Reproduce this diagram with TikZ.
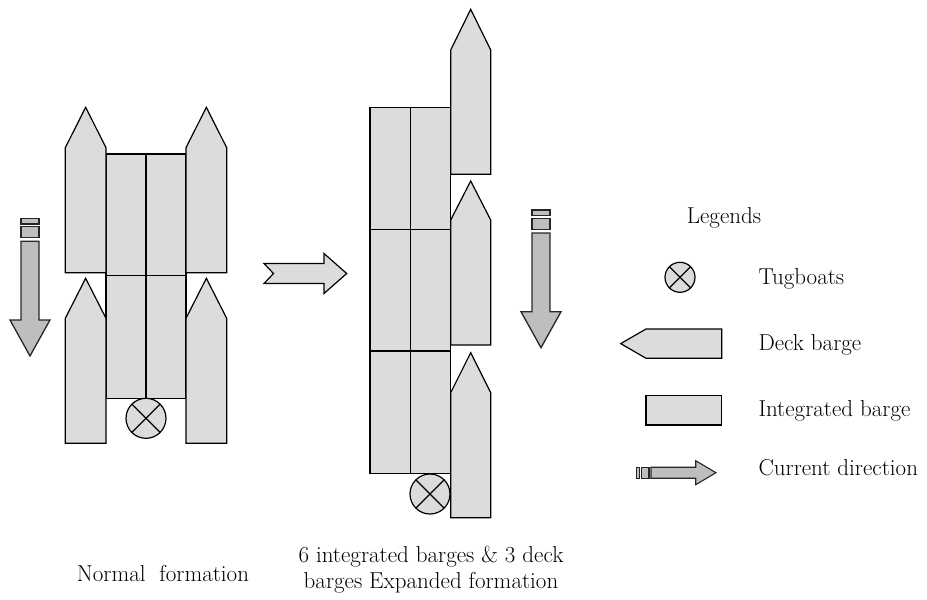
\documentclass[tikz,border=0pt]{standalone}
\usepackage{fontspec}
\setmainfont{Latin Modern Roman}
\definecolor{bargefill}{gray}{0.863}
\definecolor{arrowfill}{gray}{0.745}
\tikzset{
  hull/.style={draw=black, fill=bargefill, line width=1.2pt, line join=miter},
  cur/.style={draw=black!85, fill=arrowfill, line width=1.3pt, line join=miter},
  tug/.style={circle, draw=black, fill=bargefill, line width=1.2pt, inner sep=0pt, outer sep=0pt},
  lbl/.style={font=\fontsize{23}{25}\selectfont, inner sep=0pt, anchor=base west}
}
% deck barge pointing up: x1, x2, apex y, shoulder y, bottom y
\newcommand{\dbarge}[5]{%
  \draw[hull] (#1,#5) -- (#1,#4) -- ({(#1+#2)/2},#3) -- (#2,#4) -- (#2,#5) -- cycle;}
% current arrow pointing down: centre x, top y
\newcommand{\curdown}[2]{%
  \draw[cur] ({#1-9},#2) rectangle ({#1+9},{#2+5.7});
  \draw[cur] ({#1-9},{#2+8.4}) rectangle ({#1+9},{#2+19.4});
  \draw[cur] ({#1-9},{#2+23}) -- ({#1-9},{#2+101.7}) -- ({#1-20},{#2+101.7}) -- (#1,{#2+137.7})
     -- ({#1+20},{#2+101.7}) -- ({#1+9},{#2+101.7}) -- ({#1+9},{#2+23}) -- cycle;}
% tug cross
\newcommand{\tugx}[1]{%
  \draw[line width=1.2pt] (#1.north west) -- (#1.south east) (#1.north east) -- (#1.south west);}
\begin{document}
\begin{tikzpicture}[x=1pt,y=-1pt]
\useasboundingbox (0,0) rectangle (927,600);

% ---------- Normal formation ----------
\curdown{30}{218.3}
\draw[hull] (106,154) rectangle (146,275.7);
\draw[hull] (146,154) rectangle (186,275.7);
\draw[hull] (106,275.7) rectangle (146,398.3);
\draw[hull] (146,275.7) rectangle (186,398.3);
\dbarge{65.3}{106}{107.3}{147.7}{272.7}
\dbarge{186}{226.7}{107.3}{147.7}{272.7}
\dbarge{65.3}{106}{278.3}{318.3}{443.3}
\dbarge{186}{226.7}{278.3}{318.3}{443.3}
\node[tug, minimum size=40pt] (tugA) at (146,418.3) {};
\tugx{tugA}

% ---------- transition arrow ----------
\draw[hull] (264,263.5) -- (324,263.5) -- (324,253.5) -- (346.7,273.5) -- (324,293.5)
  -- (324,283.5) -- (264,283.5) -- (273.5,273.5) -- cycle;

% ---------- Expanded formation ----------
\foreach \ya/\yb in {107.3/229.3, 229.3/351, 351/473.3}{
  \draw[hull] (370,\ya) rectangle (410.7,\yb);
  \draw[hull] (410.7,\ya) rectangle (450.7,\yb);
}
\dbarge{450.7}{490.7}{9.3}{50}{174.3}
\dbarge{450.7}{490.7}{181}{220}{345}
\dbarge{450.7}{490.7}{352.7}{392.7}{517.7}
\node[tug, minimum size=40pt] (tugB) at (430,494) {};
\tugx{tugB}
\curdown{541}{210}

% ---------- Legend ----------
\node[lbl] (legt) at (686.7,223) {Legends};
\node[tug, minimum size=30pt] (tugL) at (680,277.3) {};
\tugx{tugL}
\node[lbl] (ltug) at (758.3,284) {Tugboats};
\draw[hull] (620.7,343.6) -- (646,329) -- (721.7,329) -- (721.7,358.3) -- (646,358.3) -- cycle;
\node[lbl] (ldeck) at (758.3,350.5) {Deck barge};
\draw[hull] (646,395.7) rectangle (721.7,425);
\node[lbl] (lint) at (758.3,416.5) {Integrated barge};
\draw[cur, line width=1.1pt] (636.7,467.2) rectangle (639.7,478.2);
\draw[cur, line width=1.1pt] (641.7,467.2) rectangle (649,478.2);
\draw[cur, line width=1.1pt] (651,467.2) -- (695.7,467.2) -- (695.7,460.7) -- (716,472.7)
  -- (695.7,484.7) -- (695.7,478.2) -- (651,478.2) -- cycle;
\node[lbl] (lcur) at (758.3,475) {Current direction};

% ---------- captions ----------
\node[lbl] (capA) at (76.7,581.5) {Normal\ \ formation};
\node[font=\fontsize{23}{25.5}\selectfont, inner sep=0pt, align=center, anchor=base] (capB)
  at (431,588) {6 integrated barges \& 3 deck\\barges Expanded formation};
\end{tikzpicture}
\end{document}
